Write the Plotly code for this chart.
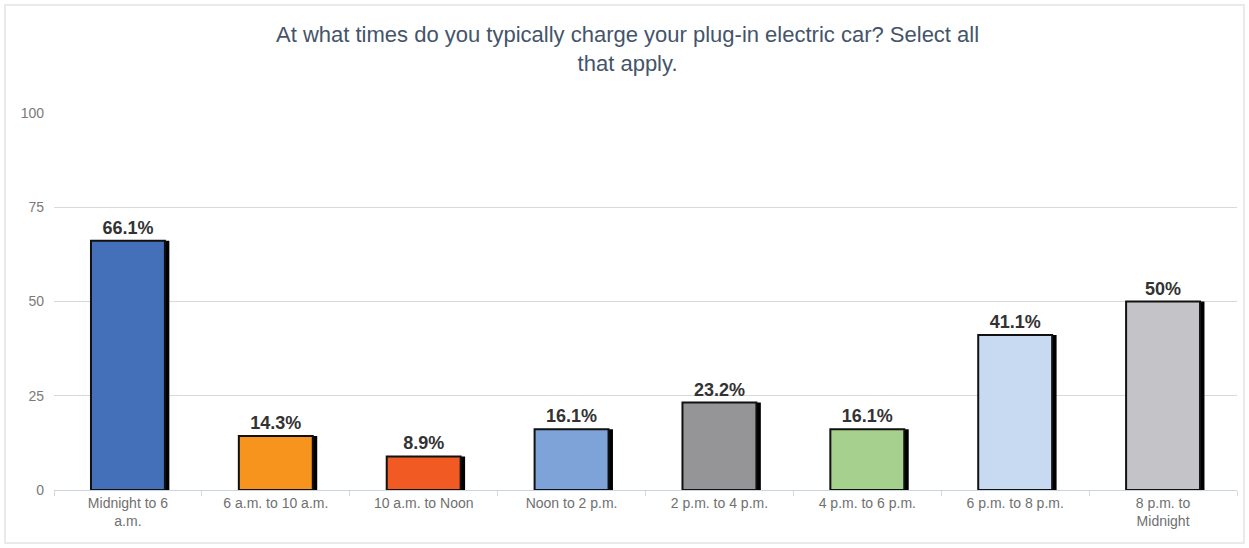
import plotly.graph_objects as go

categories = ["Midnight to 6<br>a.m.", "6 a.m. to 10 a.m.", "10 a.m. to Noon", "Noon to 2 p.m.",
              "2 p.m. to 4 p.m.", "4 p.m. to 6 p.m.", "6 p.m. to 8 p.m.", "8 p.m. to<br>Midnight"]
values = [66.1, 14.3, 8.9, 16.1, 23.2, 16.1, 41.1, 50]
labels = ["66.1%", "14.3%", "8.9%", "16.1%", "23.2%", "16.1%", "41.1%", "50%"]
colors = ["#4370b8", "#f7941d", "#f15a22", "#7ea3d9", "#959597", "#a5d08d", "#c8daf2", "#c4c4c8"]
yticks = [0, 25, 50, 75, 100]
title_text = "At what times do you typically charge your plug-in electric car? Select all<br>that apply."

W, H = 1249, 548
ml, mr, mt, mb = 54, 12, 113, 58

fig = go.Figure()
# shadow bars (black, slightly offset to the right)
fig.add_trace(go.Bar(x=categories, y=values, width=0.5, offset=-0.25 + 0.03,
                     marker=dict(color="#000000", line=dict(width=0)),
                     hoverinfo="skip", showlegend=False))
fig.add_trace(go.Bar(x=categories, y=values, width=0.5, offset=-0.25,
                     marker=dict(color=colors, line=dict(color="#111111", width=2)),
                     text=labels, textposition="outside", cliponaxis=False,
                     textfont=dict(family="Liberation Sans, Arial", size=18, color="#333333"),
                     texttemplate="<b>%{text}</b>", showlegend=False))

pw = W - ml - mr
ph = H - mt - mb
x0 = (5 - ml) / pw
x1 = (W - 5 - ml) / pw
y0 = 1 - (H - 5 - mt) / ph
y1 = 1 + (mt - 5) / ph
fig.add_shape(type="rect", xref="paper", yref="paper", x0=x0, x1=x1, y0=y0, y1=y1,
              line=dict(color="#e3e3e3", width=1.5), fillcolor="rgba(0,0,0,0)", layer="below")

fig.add_annotation(text=title_text, xref="paper", yref="paper",
                   x=(627 - ml) / pw, y=1 + (mt - 20) / ph, xanchor="center", yanchor="top",
                   showarrow=False, align="center",
                   font=dict(family="Liberation Sans, Arial", size=22, color="#44546a"))

fig.update_layout(
    width=W, height=H,
    margin=dict(l=ml, r=mr, t=mt, b=mb),
    paper_bgcolor="white", plot_bgcolor="white",
    barmode="overlay",
    font=dict(family="Liberation Sans, Arial", size=14, color="#707070"),
    xaxis=dict(type="category", showgrid=False, showline=True, linecolor="#c9d5e3", linewidth=1,
               ticks="outside", tickson="boundaries", ticklen=5, tickcolor="#d9d9d9",
               tickfont=dict(size=14, color="#707070"), range=[-0.5, 7.5]),
    yaxis=dict(range=[0, 100], tickvals=yticks, showgrid=True, gridcolor="#d9d9d9", gridwidth=1,
               zeroline=False, showline=False, ticks="", ticklabelstandoff=9,
               tickfont=dict(size=14, color="#7a7a7a")),
)

fig.write_html("out.html")
